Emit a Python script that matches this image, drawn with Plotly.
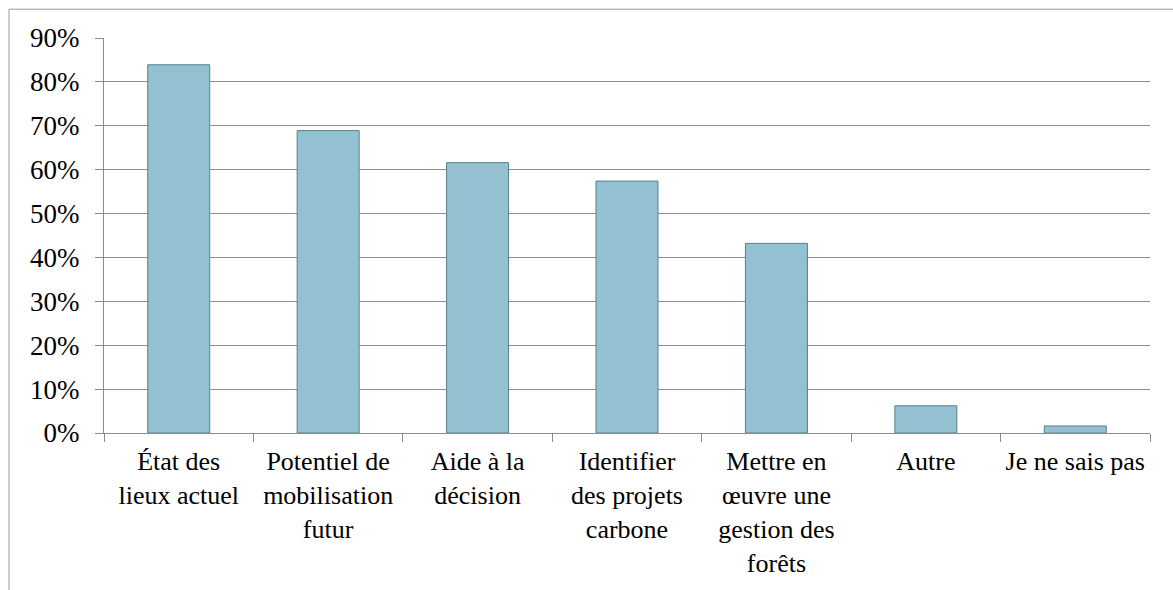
import plotly.graph_objects as go

# ------------------ Data ------------------
categories = [
    "État des<br>lieux actuel",
    "Potentiel de<br>mobilisation<br>futur",
    "Aide à la<br>décision",
    "Identifier<br>des projets<br>carbone",
    "Mettre en<br>œuvre une<br>gestion des<br>forêts",
    "Autre",
    "Je ne sais pas",
]
shares = [0.839, 0.689, 0.616, 0.574, 0.432, 0.062, 0.016]
y_ticks = [0.0, 0.1, 0.2, 0.3, 0.4, 0.5, 0.6, 0.7, 0.8, 0.9]

FONT = "Liberation Serif"
GRID = "#8c8c8c"

# ------------------ Figure ------------------
fig = go.Figure()
fig.add_trace(go.Bar(
    x=categories, y=shares,
    marker=dict(color="#93c1d1", line=dict(color="#56808f", width=1)),
    width=0.415,
    showlegend=False,
    hoverinfo="skip",
))

fig.update_layout(
    width=1173, height=590,
    margin=dict(l=104, r=23, t=38, b=154),
    paper_bgcolor="white", plot_bgcolor="white",
    font=dict(family=FONT, size=26, color="#000000"),
)

fig.update_yaxes(
    range=[0, 0.9], tickvals=y_ticks, tickformat=".0%",
    showgrid=True, gridcolor=GRID, gridwidth=1,
    showline=True, linecolor=GRID, linewidth=1,
    ticks="outside", ticklen=8, tickcolor=GRID,
    ticklabelstandoff=10, zeroline=False,
    tickfont=dict(family=FONT, size=27),
)
fig.update_xaxes(
    showline=True, linecolor=GRID, linewidth=1,
    ticks="outside", ticklen=8, tickcolor=GRID, tickson="boundaries",
    ticklabelstandoff=5, tickangle=0,
    tickfont=dict(family=FONT, size=26),
)

# frame around the chart (cut off at right and bottom like the original)
fig.add_shape(type="rect", xref="paper", yref="paper",
              x0=-0.0908, x1=1.2, y0=-0.5, y1=1.0729,
              line=dict(color="#9a9a9a", width=1), layer="below")

# page has a default body margin; remove it so the chart sits at 0,0
fig.write_html("out.html", config={"displayModeBar": False},
               post_script="document.body.style.margin='0';")
